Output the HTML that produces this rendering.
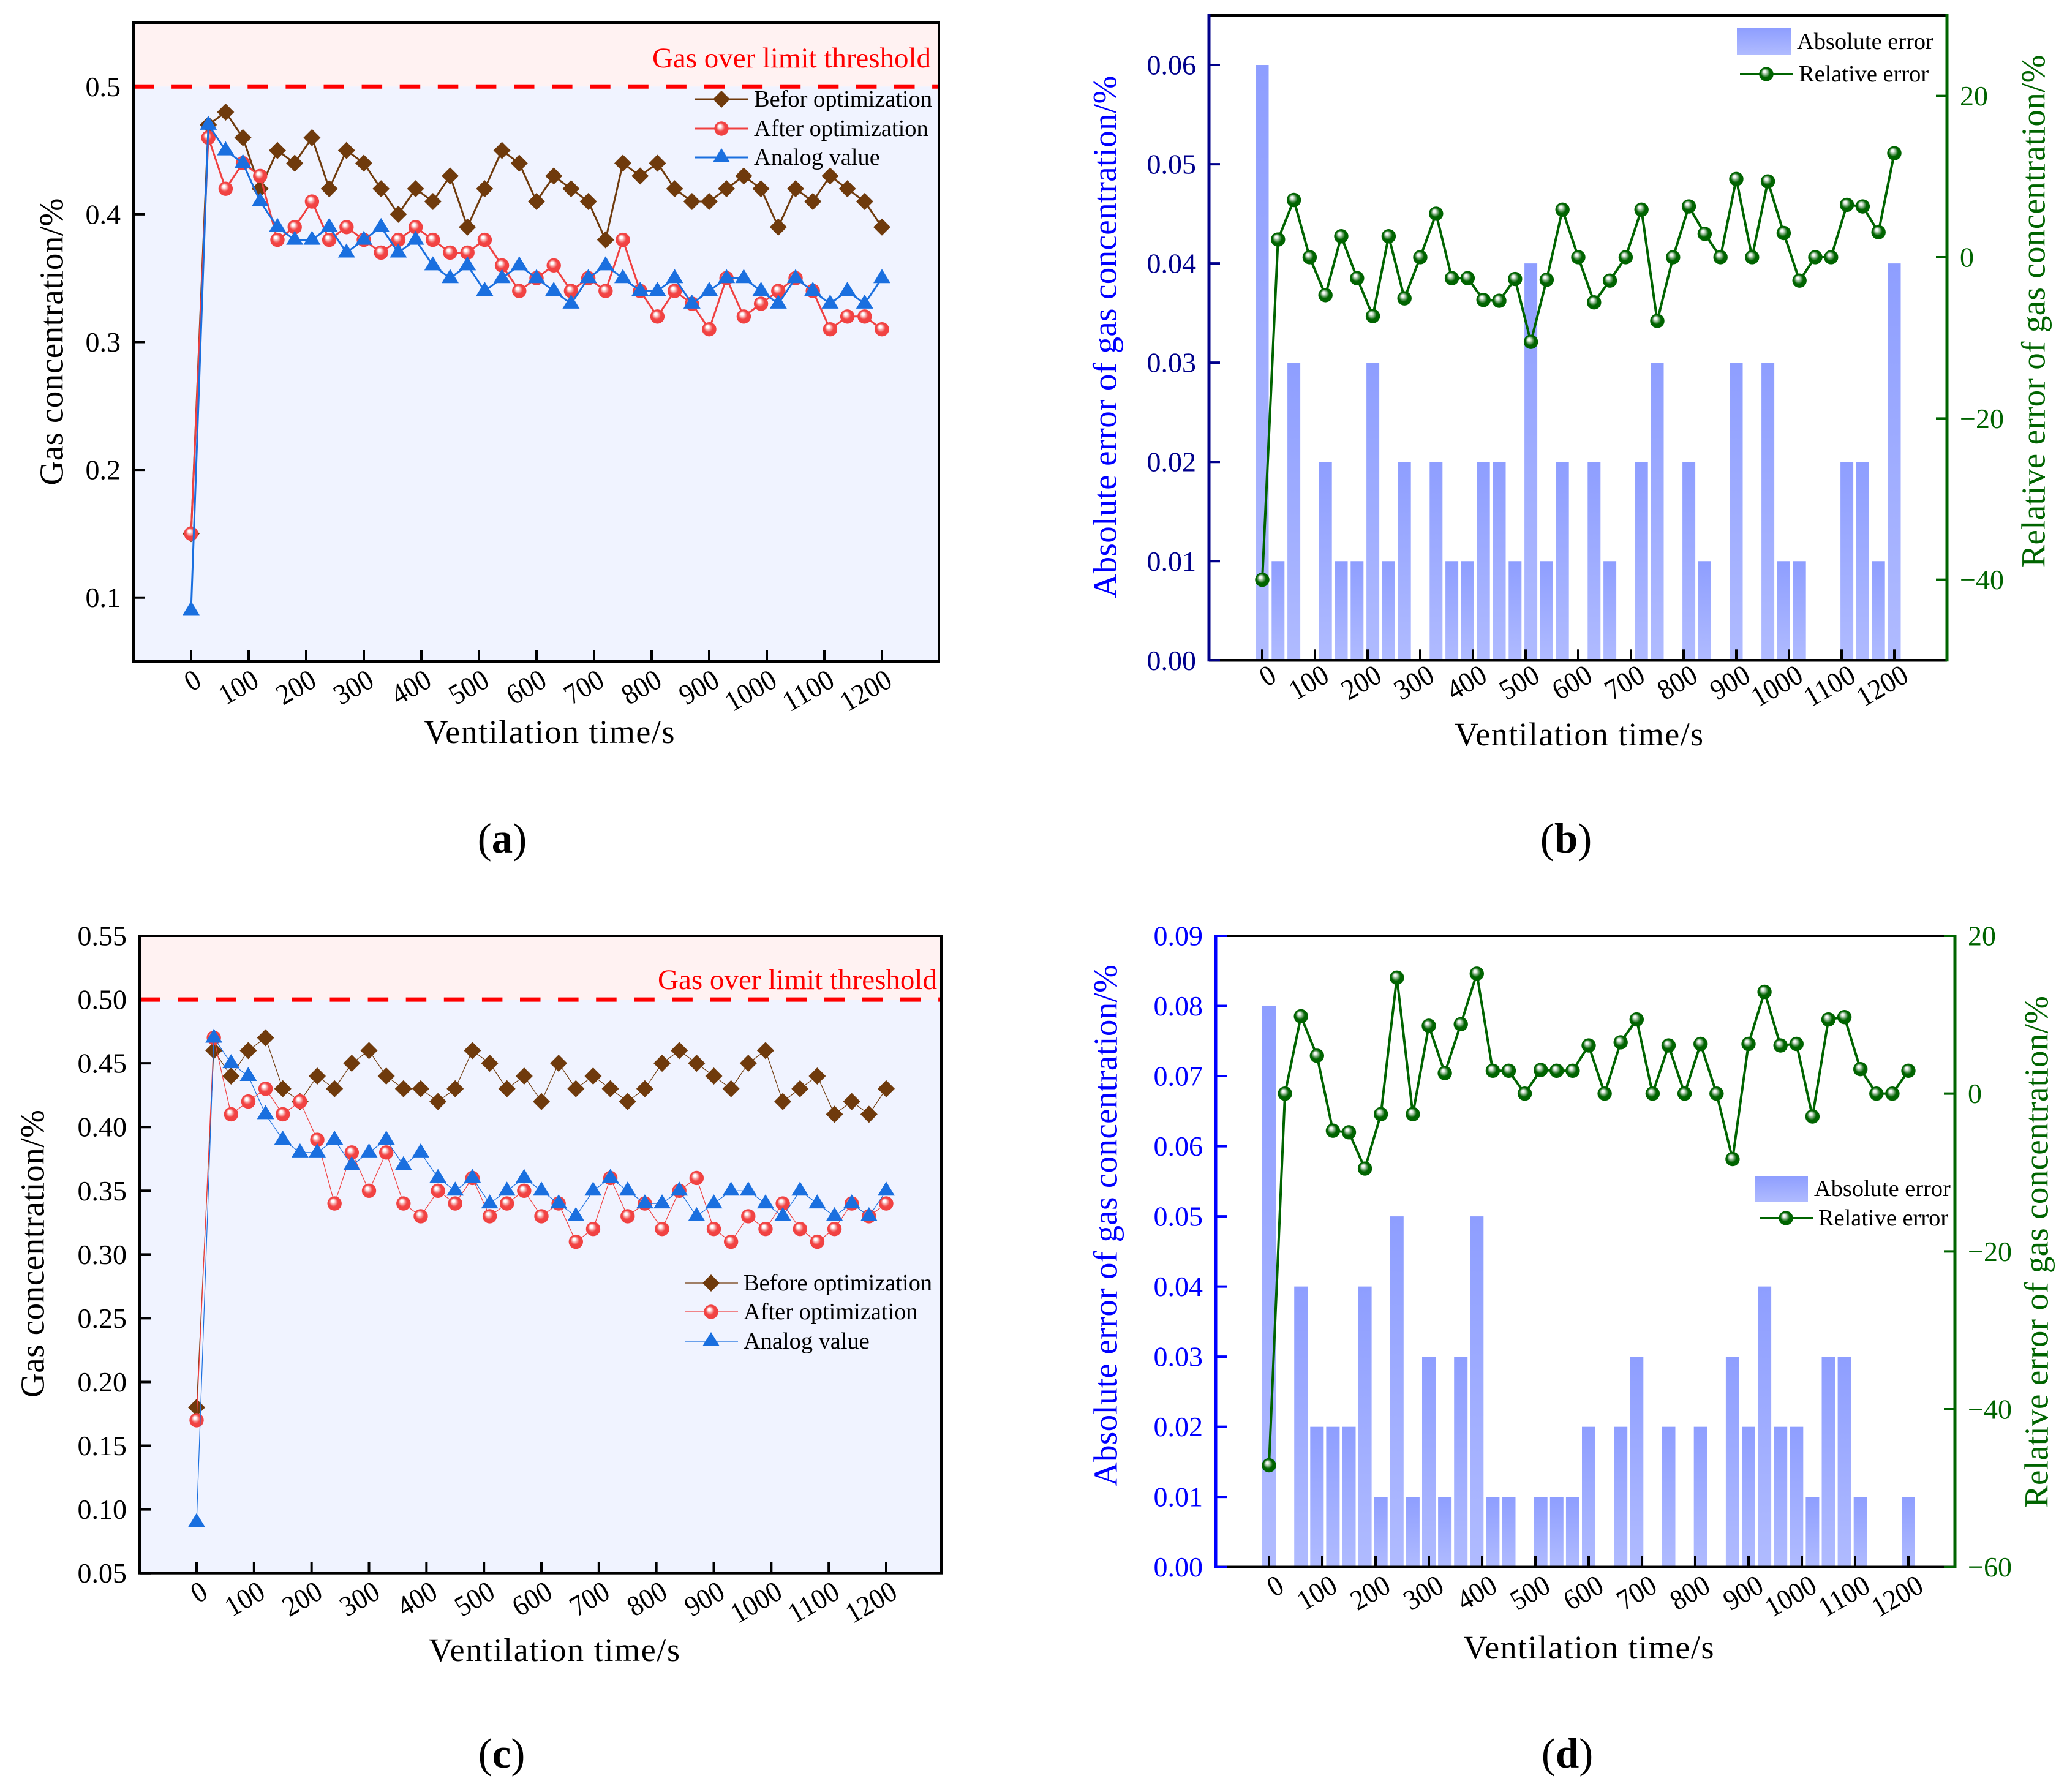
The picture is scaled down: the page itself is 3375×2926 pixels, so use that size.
<!DOCTYPE html>
<html lang="en">
<head>
<meta charset="utf-8">
<title>Gas concentration charts</title>
<style>
html,body{margin:0;padding:0;background:#fff;}
svg{display:block;font-family:"Liberation Serif","Times New Roman",serif;}
</style>
</head>
<body>
<svg id="figure" xmlns="http://www.w3.org/2000/svg" width="3375" height="2926" viewBox="0 0 3375 2926">
<defs>
<radialGradient id="ballRed" cx="0.5" cy="0.5" r="0.55" fx="0.36" fy="0.3">
<stop offset="0" stop-color="#ffffff"/><stop offset="0.16" stop-color="#ffffff"/><stop offset="0.34" stop-color="#f7a8a8"/><stop offset="0.55" stop-color="#f24444"/><stop offset="1" stop-color="#f04040"/>
</radialGradient>
<radialGradient id="ballGreen" cx="0.5" cy="0.5" r="0.55" fx="0.36" fy="0.3">
<stop offset="0" stop-color="#ffffff"/><stop offset="0.16" stop-color="#eef5ee"/><stop offset="0.36" stop-color="#7fae7f"/><stop offset="0.58" stop-color="#006400"/><stop offset="1" stop-color="#006400"/>
</radialGradient>
<linearGradient id="barFill" x1="0" y1="0" x2="0" y2="1">
<stop offset="0" stop-color="#8e9eff"/><stop offset="1" stop-color="#b0bbff"/>
</linearGradient>
</defs>
<g id="layer-a"></g>
<g id="layer-b"></g>
<g id="layer-c"></g>
<g id="layer-d"></g>

<g font-size="54">
<text x="897" y="1195" text-anchor="middle" dominant-baseline="central" textLength="409">Ventilation time/s</text>
<text font-size="55" transform="translate(84,558) rotate(-90)" text-anchor="middle" dominant-baseline="central" textLength="469">Gas concentration/%</text>
<text x="2578" y="1199" text-anchor="middle" dominant-baseline="central" textLength="406">Ventilation time/s</text>
<text font-size="55" fill="#0000ff" transform="translate(1804,550) rotate(-90)" text-anchor="middle" dominant-baseline="central" textLength="853">Absolute error of gas concentration/%</text>
<text font-size="55" fill="#006400" transform="translate(3320,508) rotate(-90)" text-anchor="middle" dominant-baseline="central" textLength="837">Relative error of gas concentration/%</text>
<text x="905" y="2694" text-anchor="middle" dominant-baseline="central" textLength="410">Ventilation time/s</text>
<text font-size="55" transform="translate(53,2047) rotate(-90)" text-anchor="middle" dominant-baseline="central" textLength="470">Gas concentration/%</text>
<text x="2594" y="2690" text-anchor="middle" dominant-baseline="central" textLength="409">Ventilation time/s</text>
<text font-size="55" fill="#0000ff" transform="translate(1805,2001) rotate(-90)" text-anchor="middle" dominant-baseline="central" textLength="852">Absolute error of gas concentration/%</text>
<text font-size="55" fill="#006400" transform="translate(3325,2044) rotate(-90)" text-anchor="middle" dominant-baseline="central" textLength="836">Relative error of gas concentration/%</text>
</g>

<g font-size="47" fill="#ff0000">
<text x="1520" y="110" text-anchor="end" textLength="455">Gas over limit threshold</text>
<text x="1530" y="1615" text-anchor="end" textLength="456">Gas over limit threshold</text>
</g>

<g font-size="38.4">
<g>
<line x1="1134" x2="1222" y1="162" y2="162" stroke="#6f3a0c" stroke-width="3"/>
<polygon points="1178,148 1192,162 1178,176 1164,162" fill="#6f3a0c"/>
<text x="1231" y="162" dominant-baseline="central">Befor optimization</text>
</g>
<g>
<line x1="1134" x2="1222" y1="210" y2="210" stroke="#f04040" stroke-width="3"/>
<circle cx="1178" cy="210" r="11.7" fill="url(#ballRed)"/>
<text x="1231" y="210" dominant-baseline="central">After optimization</text>
</g>
<g>
<line x1="1134" x2="1222" y1="257" y2="257" stroke="#1a6fdf" stroke-width="3"/>
<polygon points="1178,242 1192,265 1164,265" fill="#1a6fdf"/>
<text x="1231" y="257" dominant-baseline="central">Analog value</text>
</g>
</g>

<g font-size="38.4">
<g>
<line x1="1118" x2="1205" y1="2095" y2="2095" stroke="#6f3a0c" stroke-width="1.2"/>
<polygon points="1161,2081 1175,2095 1161,2109 1147,2095" fill="#6f3a0c"/>
<text x="1214" y="2095" dominant-baseline="central">Before optimization</text>
</g>
<g>
<line x1="1118" x2="1205" y1="2142" y2="2142" stroke="#f04040" stroke-width="1.2"/>
<circle cx="1161" cy="2142" r="11.7" fill="url(#ballRed)"/>
<text x="1214" y="2142" dominant-baseline="central">After optimization</text>
</g>
<g>
<line x1="1118" x2="1205" y1="2190" y2="2190" stroke="#1a6fdf" stroke-width="1.2"/>
<polygon points="1161,2175 1175,2198 1147,2198" fill="#1a6fdf"/>
<text x="1214" y="2190" dominant-baseline="central">Analog value</text>
</g>
</g>

<g font-size="38.4">
<g>
<rect x="2836" y="46" width="88" height="43" fill="url(#barFill)"/>
<text x="2934" y="68" dominant-baseline="central">Absolute error</text>
</g>
<g>
<line x1="2841" x2="2928" y1="121" y2="121" stroke="#006400" stroke-width="4"/>
<circle cx="2884" cy="121" r="11.7" fill="url(#ballGreen)"/>
<text x="2937" y="121" dominant-baseline="central">Relative error</text>
</g>
</g>

<g font-size="38.4">
<g>
<rect x="2866" y="1920" width="86" height="43" fill="url(#barFill)"/>
<text x="2962" y="1941" dominant-baseline="central">Absolute error</text>
</g>
<g>
<line x1="2873" x2="2960" y1="1989" y2="1989" stroke="#006400" stroke-width="4"/>
<circle cx="2916" cy="1989" r="11.7" fill="url(#ballGreen)"/>
<text x="2969" y="1989" dominant-baseline="central">Relative error</text>
</g>
</g>

<g font-size="69">
<text x="820" y="1369" text-anchor="middle" dominant-baseline="central">(<tspan font-weight="bold">a</tspan>)</text>
<text x="2557" y="1369" text-anchor="middle" dominant-baseline="central">(<tspan font-weight="bold">b</tspan>)</text>
<text x="819" y="2863" text-anchor="middle" dominant-baseline="central">(<tspan font-weight="bold">c</tspan>)</text>
<text x="2559" y="2863" text-anchor="middle" dominant-baseline="central">(<tspan font-weight="bold">d</tspan>)</text>
</g>
</svg>

<script>
const timeCategories = [0,30,60,90,120,150,180,210,240,270,300,330,360,390,420,450,480,510,540,570,600,630,660,690,720,750,780,810,840,870,900,930,960,990,1020,1050,1080,1110,1140,1170,1200];
const xTickValues = [0,100,200,300,400,500,600,700,800,900,1000,1100,1200];
const thresholdValue = [0.5];

const beforeA = [0.15,0.47,0.48,0.46,0.42,0.45,0.44,0.46,0.42,0.45,0.44,0.42,0.40,0.42,0.41,0.43,0.39,0.42,0.45,0.44,0.41,0.43,0.42,0.41,0.38,0.44,0.43,0.44,0.42,0.41,0.41,0.42,0.43,0.42,0.39,0.42,0.41,0.43,0.42,0.41,0.39];
const afterA = [0.15,0.46,0.42,0.44,0.43,0.38,0.39,0.41,0.38,0.39,0.38,0.37,0.38,0.39,0.38,0.37,0.37,0.38,0.36,0.34,0.35,0.36,0.34,0.35,0.34,0.38,0.34,0.32,0.34,0.33,0.31,0.35,0.32,0.33,0.34,0.35,0.34,0.31,0.32,0.32,0.31];
const analogA = [0.09,0.47,0.45,0.44,0.41,0.39,0.38,0.38,0.39,0.37,0.38,0.39,0.37,0.38,0.36,0.35,0.36,0.34,0.35,0.36,0.35,0.34,0.33,0.35,0.36,0.35,0.34,0.34,0.35,0.33,0.34,0.35,0.35,0.34,0.33,0.35,0.34,0.33,0.34,0.33,0.35];
const yTicksA = [0.1,0.2,0.3,0.4,0.5];

const absoluteB = [0.06,0.01,0.03,0,0.02,0.01,0.01,0.03,0.01,0.02,0,0.02,0.01,0.01,0.02,0.02,0.01,0.04,0.01,0.02,0,0.02,0.01,0,0.02,0.03,0,0.02,0.01,0,0.03,0,0.03,0.01,0.01,0,0,0.02,0.02,0.01,0.04];
const relativeB = [-40,2.2,7.1,0,-4.7,2.6,-2.6,-7.3,2.6,-5.1,0,5.4,-2.6,-2.6,-5.3,-5.4,-2.7,-10.5,-2.8,5.9,0,-5.6,-2.9,0,5.9,-7.9,0,6.3,2.9,0,9.7,0,9.4,3.0,-2.9,0,0,6.5,6.3,3.1,12.9];
const yLeftTicksB = [0,0.01,0.02,0.03,0.04,0.05,0.06];
const yRightTicksB = [-40,-20,0,20];

const beforeC = [0.18,0.46,0.44,0.46,0.47,0.43,0.42,0.44,0.43,0.45,0.46,0.44,0.43,0.43,0.42,0.43,0.46,0.45,0.43,0.44,0.42,0.45,0.43,0.44,0.43,0.42,0.43,0.45,0.46,0.45,0.44,0.43,0.45,0.46,0.42,0.43,0.44,0.41,0.42,0.41,0.43];
const afterC = [0.17,0.47,0.41,0.42,0.43,0.41,0.42,0.39,0.34,0.38,0.35,0.38,0.34,0.33,0.35,0.34,0.36,0.33,0.34,0.35,0.33,0.34,0.31,0.32,0.36,0.33,0.34,0.32,0.35,0.36,0.32,0.31,0.33,0.32,0.34,0.32,0.31,0.32,0.34,0.33,0.34];
const analogC = [0.09,0.47,0.45,0.44,0.41,0.39,0.38,0.38,0.39,0.37,0.38,0.39,0.37,0.38,0.36,0.35,0.36,0.34,0.35,0.36,0.35,0.34,0.33,0.35,0.36,0.35,0.34,0.34,0.35,0.33,0.34,0.35,0.35,0.34,0.33,0.35,0.34,0.33,0.34,0.33,0.35];
const yTicksC = [0.05,0.10,0.15,0.20,0.25,0.30,0.35,0.40,0.45,0.50,0.55];

const absoluteD = [0.08,0,0.04,0.02,0.02,0.02,0.04,0.01,0.05,0.01,0.03,0.01,0.03,0.05,0.01,0.01,0,0.01,0.01,0.01,0.02,0,0.02,0.03,0,0.02,0,0.02,0,0.03,0.02,0.04,0.02,0.02,0.01,0.03,0.03,0.01,0,0,0.01];
const relativeD = [-47.1,0,9.8,4.8,-4.7,-4.9,-9.5,-2.6,14.7,-2.6,8.6,2.6,8.8,15.2,2.9,2.9,0,3.0,2.9,2.9,6.1,0,6.5,9.4,0,6.1,0,6.3,0,-8.3,6.3,12.9,6.1,6.3,-2.9,9.4,9.7,3.1,0,0,2.9];
const yLeftTicksD = [0,0.01,0.02,0.03,0.04,0.05,0.06,0.07,0.08,0.09];
const yRightTicksD = [-60,-40,-20,0,20];

const SVGNS = 'http://www.w3.org/2000/svg';
function make(tag, parent, attrs) {
  const e = document.createElementNS(SVGNS, tag);
  for (const k in attrs) e.setAttribute(k, attrs[k]);
  parent.appendChild(e);
  return e;
}
function linear(d0, d1, r0, r1) {
  return function (v) { return r0 + (v - d0) * (r1 - r0) / (d1 - d0); };
}
function spine(parent, x1, y1, x2, y2, color, w) {
  const s = make('line', parent, {x1: x1, y1: y1, x2: x2, y2: y2, stroke: color, 'stroke-width': w});
  
  
  return s;
}
function drawXAxis(parent, geo) {
  const xs = linear(0, 1200, geo.x0, geo.x1);
  xTickValues.forEach(function (v) {
    const t = make('line', parent, {x1: xs(v), x2: xs(v), y1: geo.bottom, y2: geo.bottom - 18, stroke: '#000', 'stroke-width': 4});
    
    
    const lx = xs(v) + geo.labelDx, ly = geo.bottom + geo.labelDy;
    const txt = String(v);
    const l = make('text', parent, {x: lx, y: ly, 'font-size': 47, 'text-anchor': 'end', 'dominant-baseline': 'central', textLength: txt.length * 22, lengthAdjust: 'spacingAndGlyphs', transform: 'rotate(-30 ' + lx + ' ' + ly + ')'});
    l.textContent = txt;
    
    
  });
  return xs;
}
function drawYTicks(parent, ys, ticks, spineX, dir, color, fmt) {
  ticks.forEach(function (v) {
    const t = make('line', parent, {x1: spineX, x2: spineX + dir * 18, y1: ys(v), y2: ys(v), stroke: color, 'stroke-width': 4});
    
    
    const l = make('text', parent, {x: spineX - dir * 21, y: ys(v), 'font-size': 46, fill: color, 'text-anchor': dir > 0 ? 'end' : 'start', 'dominant-baseline': 'central'});
    l.textContent = fmt(v);
    
    
  });
}
function path(xs, ys, values) {
  return values.map(function (v, i) { return xs(timeCategories[i]) + ',' + ys(v); }).join(' ');
}
function drawDiamonds(parent, xs, ys, values, color) {
  values.forEach(function (v, i) {
    const x = xs(timeCategories[i]), y = ys(v);
    const m = make('polygon', parent, {points: x + ',' + (y - 14) + ' ' + (x + 14) + ',' + y + ' ' + x + ',' + (y + 14) + ' ' + (x - 14) + ',' + y, fill: color});
    
    
  });
}
function drawBalls(parent, xs, ys, values, fill) {
  values.forEach(function (v, i) {
    const m = make('circle', parent, {cx: xs(timeCategories[i]), cy: ys(v), r: 11.7, fill: fill});
    
    
  });
}
function drawTriangles(parent, xs, ys, values, color) {
  values.forEach(function (v, i) {
    const x = xs(timeCategories[i]), y = ys(v);
    const m = make('polygon', parent, {points: x + ',' + (y - 15) + ' ' + (x + 14) + ',' + (y + 8) + ' ' + (x - 14) + ',' + (y + 8), fill: color});
    
    
  });
}
function seriesLine(parent, xs, ys, values, color, w, name) {
  const p = make('polyline', parent, {points: path(xs, ys, values), fill: 'none', stroke: color, 'stroke-width': w, 'stroke-linejoin': 'round'});
  
  
}
function concentrationPanel(id, geo, before, after, analog, yTicks, fmt) {
  const g = document.getElementById(id);
  const ys = linear(0.05, 0.55, geo.bottom, geo.top);
  const yThr = ys(thresholdValue[0]);
  const hi = make('rect', g, {x: geo.left, y: geo.top, width: geo.right - geo.left, height: yThr - geo.top, fill: '#fff2f2'});
  
  
  const lo = make('rect', g, {x: geo.left, y: yThr, width: geo.right - geo.left, height: geo.bottom - yThr, fill: '#f0f3ff'});
  
  
  const xs = drawXAxis(g, geo);
  drawYTicks(g, ys, yTicks, geo.left, 1, '#000', fmt);
  seriesLine(g, xs, ys, before, '#6f3a0c', geo.lw, 'before-line');
  drawDiamonds(g, xs, ys, before, '#6f3a0c');
  seriesLine(g, xs, ys, after, '#f04040', geo.lw, 'after-line');
  drawBalls(g, xs, ys, after, 'url(#ballRed)');
  seriesLine(g, xs, ys, analog, '#1a6fdf', geo.lw, 'analog-line');
  drawTriangles(g, xs, ys, analog, '#1a6fdf');
  const d = make('line', g, {x1: geo.left, x2: geo.right, y1: yThr, y2: yThr, stroke: '#ff0000', 'stroke-width': 7, 'stroke-dasharray': '33.5 28.6'});
  
  
  const f = make('rect', g, {x: geo.left, y: geo.top, width: geo.right - geo.left, height: geo.bottom - geo.top, fill: 'none', stroke: '#000', 'stroke-width': 4});
  
  
}
function errorPanel(id, geo, absolute, relative, leftTicks, rightTicks) {
  const g = document.getElementById(id);
  const xs = linear(0, 1200, geo.x0, geo.x1);
  const yl = linear(0, geo.leftMax, geo.bottom, geo.top);
  const yr = linear(geo.rightMin, geo.rightMax, geo.bottom, geo.top);
  absolute.forEach(function (v, i) {
    const b = make('rect', g, {x: xs(timeCategories[i]) - geo.barW / 2, y: yl(v), width: geo.barW, height: geo.bottom - yl(v), fill: 'url(#barFill)'});
    
    
  });
  spine(g, geo.left, geo.top, geo.right, geo.top, '#000', 4);
  spine(g, geo.left, geo.bottom, geo.right, geo.bottom, '#000', 4.5);
  drawXAxis(g, geo);
  spine(g, geo.left, geo.top - 2, geo.left, geo.bottom + 2, geo.leftColor, 5);
  spine(g, geo.right, geo.top - 2, geo.right, geo.bottom + 2, '#006400', 5);
  drawYTicks(g, yl, leftTicks, geo.left, 1, geo.leftColor, function (v) { return v.toFixed(2); });
  drawYTicks(g, yr, rightTicks, geo.right, -1, '#006400', function (v) { return v < 0 ? '\u2212' + Math.abs(v) : String(v); });
  seriesLine(g, xs, yr, relative, '#006400', 4, 'relative-error-line');
  drawBalls(g, xs, yr, relative, 'url(#ballGreen)');
}

concentrationPanel('layer-a',
  {left: 218, right: 1533, top: 37, bottom: 1080, x0: 312, x1: 1440, labelDx: 12, labelDy: 26, lw: 3},
  beforeA, afterA, analogA, yTicksA, function (v) { return v.toFixed(1); });
concentrationPanel('layer-c',
  {left: 228, right: 1537, top: 1528, bottom: 2568.7, x0: 321, x1: 1447, labelDx: 13.5, labelDy: 26, lw: 1.2},
  beforeC, afterC, analogC, yTicksC, function (v) { return v.toFixed(2); });
errorPanel('layer-b',
  {left: 1974, right: 3179, top: 25, bottom: 1078.3, x0: 2061, x1: 3093, labelDx: 18.5, labelDy: 20, barW: 21, leftMax: 0.065, rightMin: -50, rightMax: 30, leftColor: '#00008b'},
  absoluteB, relativeB, yLeftTicksB, yRightTicksB);
errorPanel('layer-d',
  {left: 1985, right: 3192, top: 1528, bottom: 2558.7, x0: 2072, x1: 3116, labelDx: 20, labelDy: 26, barW: 22, leftMax: 0.09, rightMin: -60, rightMax: 20, leftColor: '#0000ff'},
  absoluteD, relativeD, yLeftTicksD, yRightTicksD);
</script>
</body>
</html>
